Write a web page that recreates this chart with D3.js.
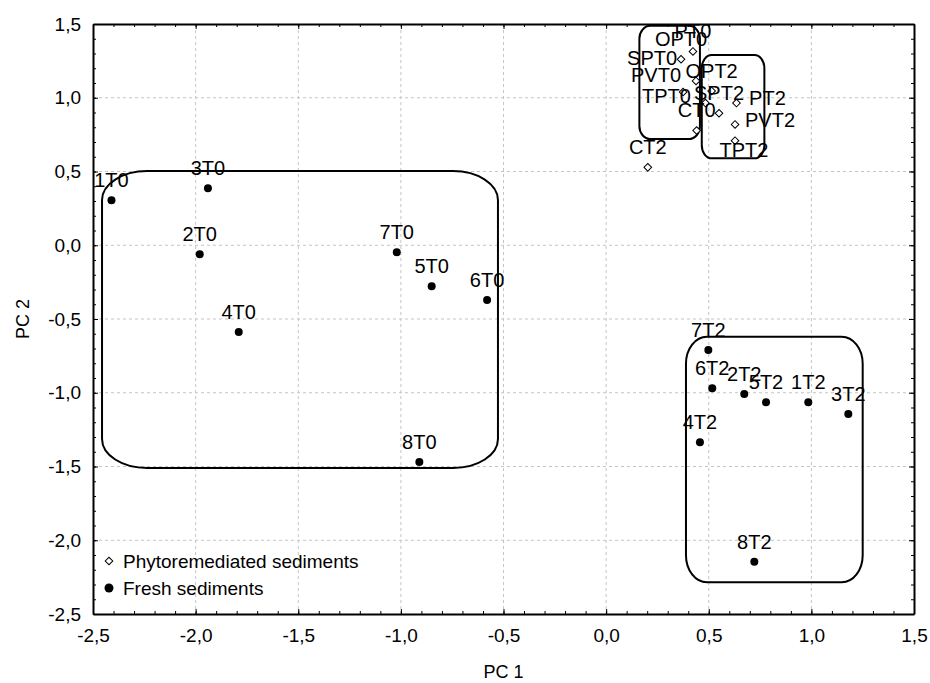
<!DOCTYPE html>
<html>
<head>
<meta charset="utf-8">
<script src="https://cdn.jsdelivr.net/npm/d3@7"></script>
<style>
  body { margin: 0; background: #fff; }
  svg text { font-family: "Liberation Sans", Arial, sans-serif; fill: #000; }
</style>
</head>
<body>
<svg id="chart" width="930" height="683"></svg>
<script>
// fresh sediments (filled dots)
const freshNames = ['1T0', '2T0', '3T0', '4T0', '5T0', '6T0', '7T0', '8T0',
                    '1T2', '2T2', '3T2', '4T2', '5T2', '6T2', '7T2', '8T2'];
const freshPC1 = [-2.41, -1.98, -1.94, -1.79, -0.85, -0.58, -1.02, -0.91,
                  0.985, 0.673, 1.18, 0.457, 0.779, 0.517, 0.498, 0.722];
const freshPC2 = [0.305, -0.061, 0.386, -0.588, -0.278, -0.371, -0.048, -1.47,
                  -1.065, -1.008, -1.144, -1.336, -1.065, -0.970, -0.710, -2.145];

// phytoremediated sediments (open diamonds)
const phytoNames = ['PT0', 'OPT0', 'SPT0', 'PVT0', 'TPT0', 'CT0',
                    'PT2', 'OPT2', 'SPT2', 'PVT2', 'TPT2', 'CT2'];
const phytoPC1 = [0.423, 0.365, 0.375, 0.438, 0.484, 0.441,
                  0.635, 0.514, 0.550, 0.628, 0.628, 0.203];
const phytoPC2 = [1.314, 1.261, 1.039, 1.114, 0.964, 0.778,
                  0.964, 1.046, 0.895, 0.819, 0.709, 0.528];

// groups circled on the plot (PC units)
const groupNames = ['fresh T0', 'fresh T2', 'phyto T0', 'phyto T2'];
const groupX0 = [-2.456, 0.389, 0.162, 0.466];
const groupX1 = [-0.527, 1.250, 0.457, 0.771];
const groupY0 = [-1.51, -2.285, 0.720, 0.589];
const groupY1 = [0.503, -0.62, 1.488, 1.290];

const axisTicks = [-2.5, -2.0, -1.5, -1.0, -0.5, 0.0, 0.5, 1.0, 1.5];
const legendLabels = ['Phytoremediated sediments', 'Fresh sediments'];

// ---- drawing ----
const svg = d3.select('#chart');
const pL = 93, pR = 914, pT = 24, pB = 614;

const x = d3.scaleLinear().domain([-2.5, 1.5]).range([pL, pR]);
const y = d3.scaleLinear().domain([-2.5, 1.5]).range([pB, pT]);

const fmt = d3.formatLocale({ decimal: ',', thousands: '.', grouping: [3], currency: ['', ''], minus: '-' }).format('.1f');
const minorTicks = d3.range(-25, 16).map(d => d / 10);

// label nudges (px) where the labels were moved off the default spot
const nudge = {
  'SPT0': [-31, -27], 'PVT0': [-40, 1], 'TPT0': [-39, 0],
  'PT2': [31, 2], 'PVT2': [35, 3], 'TPT2': [9, 16]
};

svg.append('defs').append('clipPath').attr('id', 'plotclip')
  .append('rect').attr('x', pL).attr('y', pT)
  .attr('width', pR - pL).attr('height', pB - pT);

// grid
const grid = svg.append('g');
const inner = axisTicks.filter(d => d > -2.5 && d < 1.5);
grid.selectAll('.gx').data(inner).join('line')
  .attr('x1', d => x(d)).attr('x2', d => x(d))
  .attr('y1', pT).attr('y2', pB)
  .attr('stroke', '#c4c4c4').attr('stroke-dasharray', '3,3');
grid.selectAll('.gy').data(inner).join('line')
  .attr('y1', d => y(d)).attr('y2', d => y(d))
  .attr('x1', pL).attr('x2', pR)
  .attr('stroke', '#c4c4c4').attr('stroke-dasharray', '3,3');

// axes, ticks pointing inwards on all four sides
function drawAxis(axisFn, scale, transform, withLabels) {
  const gMinor = svg.append('g').attr('transform', transform)
    .call(axisFn(scale).tickValues(minorTicks).tickSize(-3).tickSizeOuter(0).tickFormat(''));
  gMinor.select('.domain').remove();
  const g = svg.append('g').attr('transform', transform)
    .call(axisFn(scale).tickValues(axisTicks).tickSize(-5).tickSizeOuter(0)
      .tickPadding(withLabels ? (axisFn === d3.axisBottom ? 15 : 12) : 0)
      .tickFormat(withLabels ? fmt : ''));
  g.select('.domain').attr('stroke-width', 2);
  g.selectAll('line').attr('stroke', '#000');
  gMinor.selectAll('line').attr('stroke', '#000');
  g.selectAll('text').attr('font-size', 19).attr('font-family', '"Liberation Sans", Arial, sans-serif');
  return g;
}
drawAxis(d3.axisBottom, x, `translate(0,${pB})`, true);
drawAxis(d3.axisTop, x, `translate(0,${pT})`, false);
drawAxis(d3.axisLeft, y, `translate(${pL},0)`, true);
drawAxis(d3.axisRight, y, `translate(${pR},0)`, false);

// axis titles
svg.append('text').attr('x', (pL + pR) / 2).attr('y', 678)
  .attr('text-anchor', 'middle').attr('font-size', 18).text('PC 1');
svg.append('text').attr('transform', `translate(29,${(pT + pB) / 2}) rotate(-90)`)
  .attr('text-anchor', 'middle').attr('font-size', 18).text('PC 2');

const plot = svg.append('g').attr('clip-path', 'url(#plotclip)');

// group outlines
const cornerRx = [45, 21, 11, 10], cornerRy = [29, 27, 13, 13];
plot.selectAll('.grp').data(groupNames).join('rect')
  .attr('x', (d, i) => x(groupX0[i]))
  .attr('y', (d, i) => y(groupY1[i]))
  .attr('width', (d, i) => x(groupX1[i]) - x(groupX0[i]))
  .attr('height', (d, i) => y(groupY0[i]) - y(groupY1[i]))
  .attr('rx', (d, i) => cornerRx[i]).attr('ry', (d, i) => cornerRy[i])
  .attr('fill', 'none').attr('stroke', '#000').attr('stroke-width', 2);

const diamond = d3.symbol().type(d3.symbolSquare).size(29);

// markers
plot.selectAll('.fresh').data(freshNames).join('circle')
  .attr('cx', (d, i) => x(freshPC1[i])).attr('cy', (d, i) => y(freshPC2[i]))
  .attr('r', 4).attr('fill', '#000');

plot.selectAll('.phyto').data(phytoNames).join('path')
  .attr('d', diamond)
  .attr('transform', (d, i) => `translate(${x(phytoPC1[i])},${y(phytoPC2[i])}) rotate(45)`)
  .attr('fill', '#fff').attr('stroke', '#000').attr('stroke-width', 1);

// point labels
function labels(names, pc1, pc2) {
  plot.selectAll(null).data(names).join('text')
    .attr('x', (d, i) => x(pc1[i]) + (nudge[d] ? nudge[d][0] : 0))
    .attr('y', (d, i) => y(pc2[i]) + (nudge[d] ? nudge[d][1] : -13))
    .attr('text-anchor', 'middle').attr('font-size', 20)
    .text(d => d);
}
labels(freshNames, freshPC1, freshPC2);
labels(phytoNames, phytoPC1, phytoPC2);

// legend
const legend = svg.append('g');
legend.append('path').attr('d', diamond)
  .attr('transform', 'translate(109,561) rotate(45)')
  .attr('fill', '#fff').attr('stroke', '#000');
legend.append('circle').attr('cx', 109).attr('cy', 588).attr('r', 4.5).attr('fill', '#000');
legend.selectAll('.lt').data(legendLabels).join('text')
  .attr('x', 123).attr('y', (d, i) => 568 + i * 27)
  .attr('font-size', 19).text(d => d);
</script>
</body>
</html>
